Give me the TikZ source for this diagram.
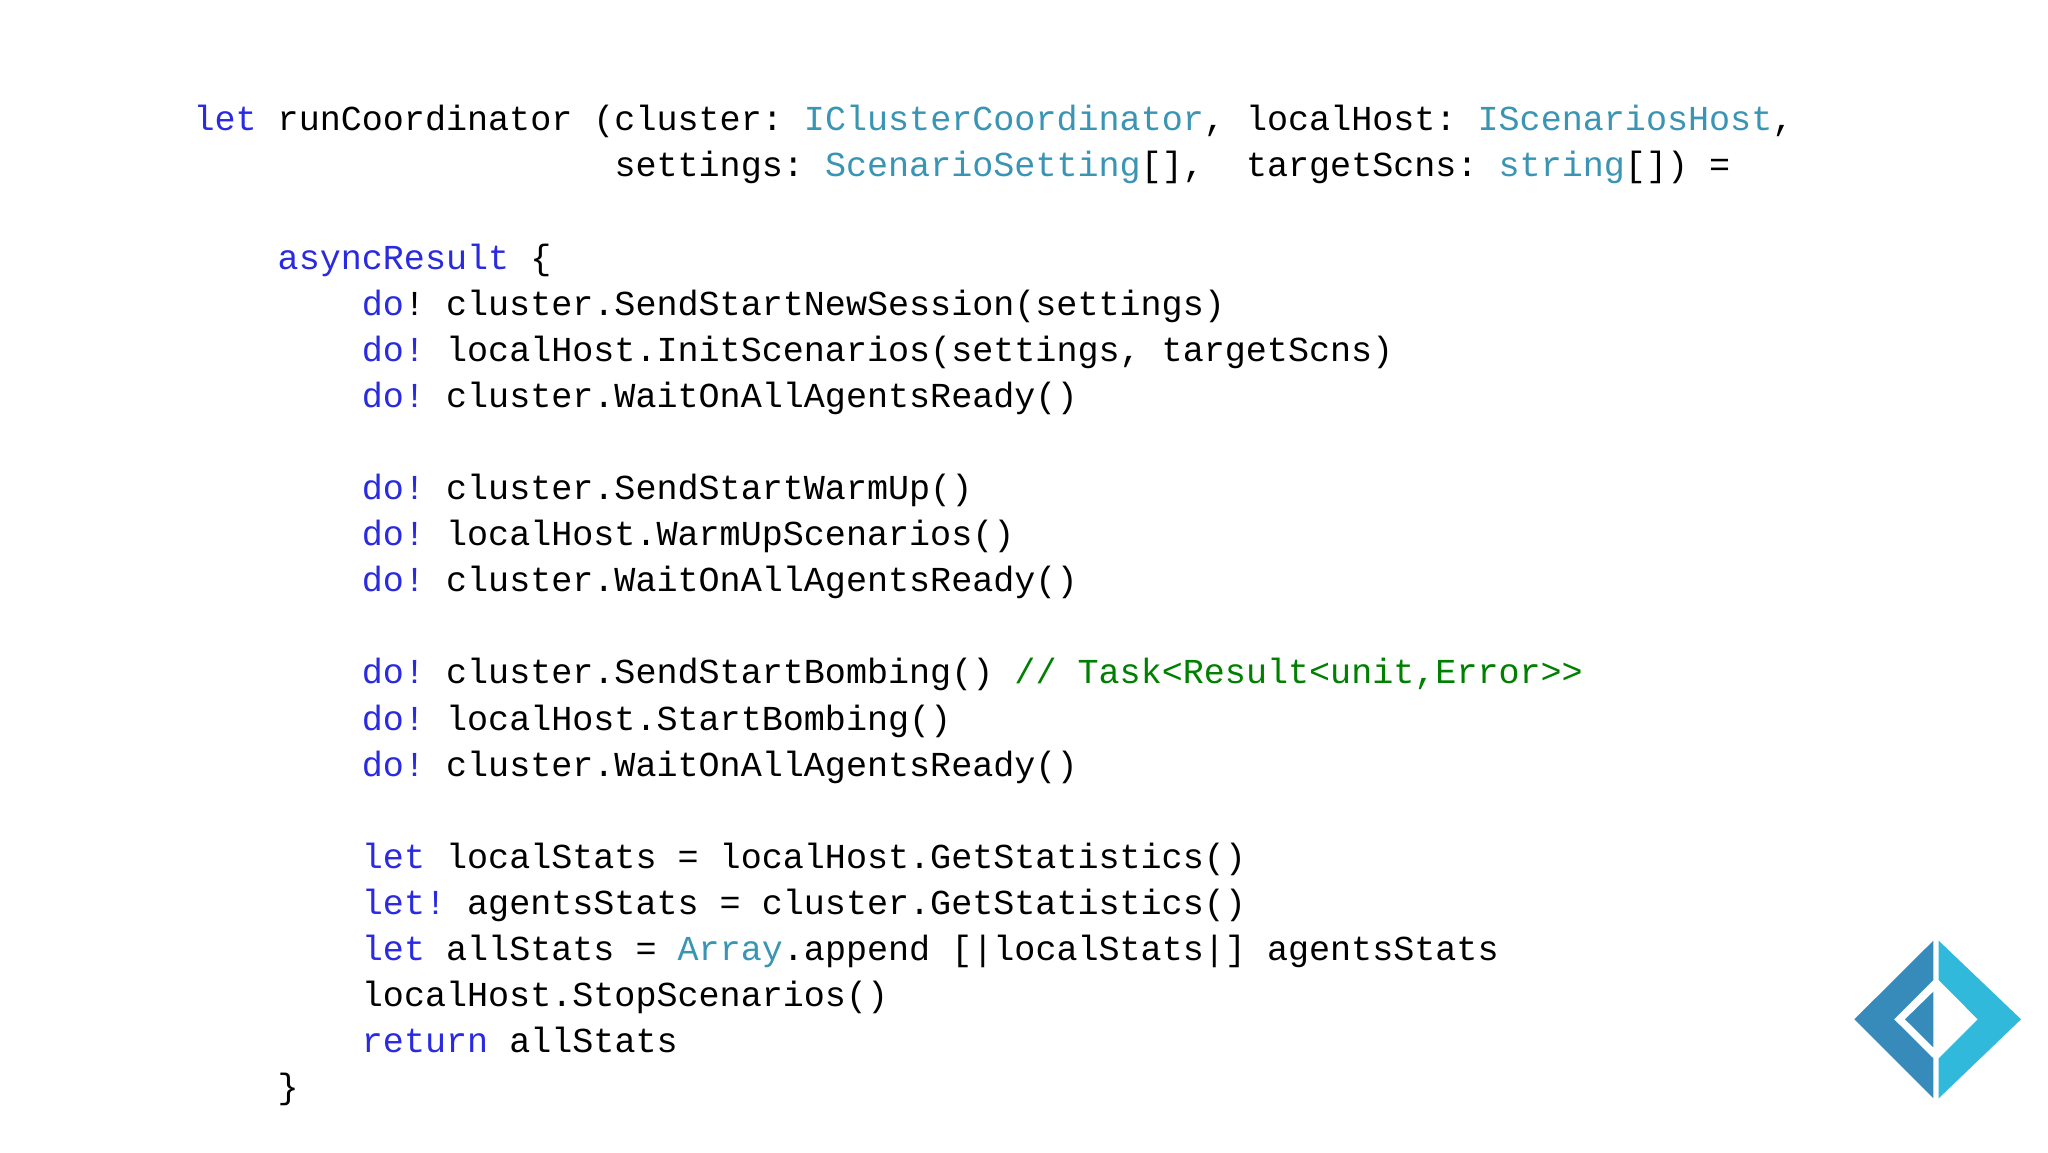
\documentclass[tikz,border=0pt]{standalone}
\usepackage{fontspec}
\newfontfamily\codefont{Liberation Mono}
\definecolor{kwblue}{HTML}{2A2AE0}
\definecolor{typeteal}{HTML}{3A94B4}
\definecolor{cmtgreen}{HTML}{008000}
\definecolor{logodark}{HTML}{378BBA}
\definecolor{logolight}{HTML}{30B9DB}
\newcommand\kw[1]{\textcolor{kwblue}{#1}}
\newcommand\ty[1]{\textcolor{typeteal}{#1}}
\newcommand\cm[1]{\textcolor{cmtgreen}{#1}}
\tikzset{
  codeline/.style={anchor=base west, inner sep=0pt, outer sep=0pt, text=black,
    font=\codefont\frenchspacing\fontsize{35.08}{46}\selectfont}
}
\begin{document}
\begin{tikzpicture}[x=1pt, y=1pt]

  \newcommand\X{21.05pt};
  \newcommand\Y{46.1pt};
  \newcommand\Xo{193.5pt};
  \newcommand\Yo{-130.7pt};

  \useasboundingbox (0, 0) rectangle (2048, -1152);

  \node[codeline] (sig1) at (\Xo+0*\X, \Yo-0*\Y) {\kw{let} runCoordinator (cluster: \ty{IClusterCoordinator}, localHost: \ty{IScenariosHost},};
  \node[codeline] (sig2) at (\Xo+20*\X, \Yo-1*\Y) {settings: \ty{ScenarioSetting}[],\ \ targetScns: \ty{string}[]) =};

  \node[codeline] (async) at (\Xo+4*\X, \Yo-3*\Y) {\kw{asyncResult} \{};

  \node[codeline] (newsession) at (\Xo+8*\X, \Yo-4*\Y) {\kw{do}! cluster.SendStartNewSession(settings)};
  \node[codeline] (initscn) at (\Xo+8*\X, \Yo-5*\Y) {\kw{do!} localHost.InitScenarios(settings, targetScns)};
  \node[codeline] (ready1) at (\Xo+8*\X, \Yo-6*\Y) {\kw{do!} cluster.WaitOnAllAgentsReady()};

  \node[codeline] (warmup) at (\Xo+8*\X, \Yo-8*\Y) {\kw{do!} cluster.SendStartWarmUp()};
  \node[codeline] (warmscn) at (\Xo+8*\X, \Yo-9*\Y) {\kw{do!} localHost.WarmUpScenarios()};
  \node[codeline] (ready2) at (\Xo+8*\X, \Yo-10*\Y) {\kw{do!} cluster.WaitOnAllAgentsReady()};

  \node[codeline] (bombing) at (\Xo+8*\X, \Yo-12*\Y) {\kw{do!} cluster.SendStartBombing() \cm{// Task<Result<unit,Error>>}};
  \node[codeline] (startbomb) at (\Xo+8*\X, \Yo-13*\Y) {\kw{do!} localHost.StartBombing()};
  \node[codeline] (ready3) at (\Xo+8*\X, \Yo-14*\Y) {\kw{do!} cluster.WaitOnAllAgentsReady()};

  \node[codeline] (localstats) at (\Xo+8*\X, \Yo-16*\Y) {\kw{let} localStats = localHost.GetStatistics()};
  \node[codeline] (agentstats) at (\Xo+8*\X, \Yo-17*\Y) {\kw{let!} agentsStats = cluster.GetStatistics()};
  \node[codeline] (allstats) at (\Xo+8*\X, \Yo-18*\Y) {\kw{let} allStats = \ty{Array}.append [|localStats|] agentsStats};
  \node[codeline] (stopscn) at (\Xo+8*\X, \Yo-19*\Y) {localHost.StopScenarios()};
  \node[codeline] (ret) at (\Xo+8*\X, \Yo-20*\Y) {\kw{return} allStats};
  \node[codeline] (close) at (\Xo+4*\X, \Yo-21*\Y) {\}};

  %% logo
  \fill[logodark] (1933.3, -940.7) -- (1854.3, -1019.3) -- (1933.3, -1098.3) -- (1933.3, -1058.3) -- (1894, -1019.3) -- (1933.3, -980) -- cycle;
  \fill[logodark] (1933.3, -991.7) -- (1905, -1019.3) -- (1933.3, -1047.3) -- cycle;
  \fill[logolight] (1938.7, -940.7) -- (2021, -1019.3) -- (1938.7, -1098.3) -- (1938.7, -1058.3) -- (1977.7, -1019.3) -- (1938.7, -980) -- cycle;
\end{tikzpicture}
\end{document}
